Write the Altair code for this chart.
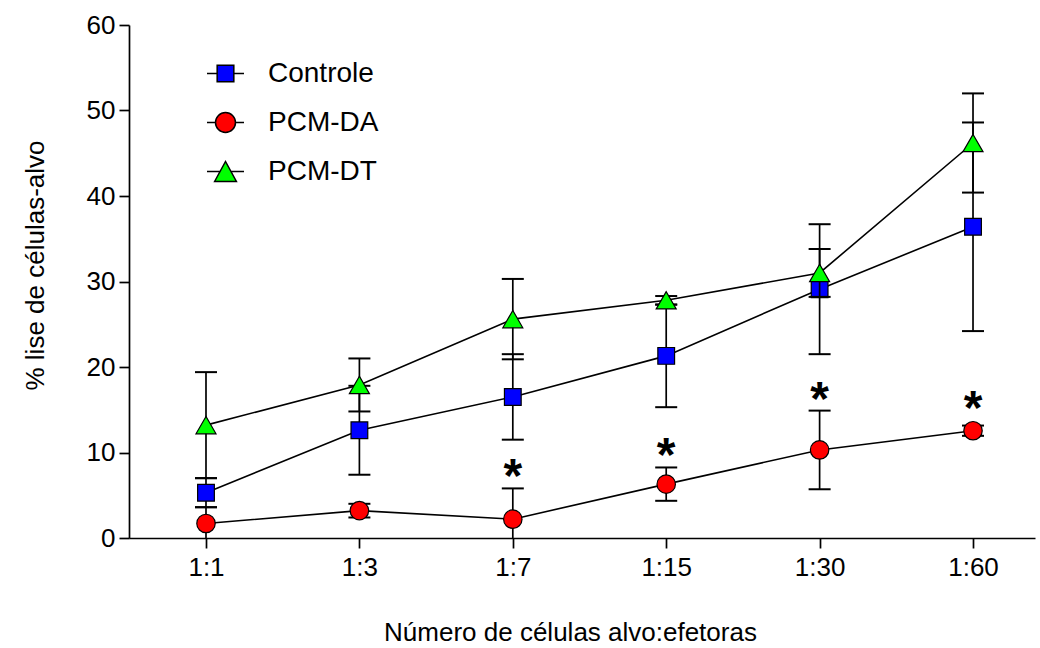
import altair as alt
import pandas as pd

# ---- data ----
categories = ["1:1", "1:3", "1:7", "1:15", "1:30", "1:60"]
series_names = ["Controle", "PCM-DA", "PCM-DT"]

controle_mean = [5.3, 12.6, 16.5, 21.3, 29.1, 36.4]
controle_err = [1.7, 5.2, 5.0, 6.0, 7.6, 12.2]

da_mean = [1.7, 3.2, 2.2, 6.3, 10.3, 12.55]
da_err = [1.9, 0.8, 3.6, 1.95, 4.6, 0.6]

dt_mean = [13.2, 17.9, 25.6, 27.8, 31.0, 46.2]
dt_err = [6.2, 3.1, 4.7, 0.5, 2.8, 5.8]

da_significance = ["", "", "*", "*", "*", "*"]

colors = ["#0000FF", "#FF0000", "#00FF00"]
outline = ["black", "black", "black"]
plot_shapes = ["square", "circle", "triangle-up"]
plot_sizes = [280, 400, 440]
legend_shapes = [
    "M-1,0L-0.45,0M-0.45,-0.45L0.45,-0.45L0.45,0.45L-0.45,0.45ZM0.45,0L1,0",
    "M-1,0L-0.54,0M-0.54,0A0.54,0.54,0,1,1,0.54,0A0.54,0.54,0,1,1,-0.54,0ZM0.54,0L1,0",
    "M-1,0L-0.3,0M0.3,0L1,0M-0.59,0.54L0,-0.54L0.59,0.54Z",
]

FONT = "Liberation Sans"

rows = []
for name, means, errs in zip(series_names, [controle_mean, da_mean, dt_mean],
                             [controle_err, da_err, dt_err]):
    for i, c in enumerate(categories):
        star = da_significance[i] if name == "PCM-DA" else ""
        rows.append(dict(series=name, cat=c, mean=means[i],
                         lo=means[i] - errs[i], hi=means[i] + errs[i],
                         star=star,
                         star_y=max(means[i] + errs[i], means[i] + 1.2)))
df = pd.DataFrame(rows)

x_axis = alt.Axis(title="Número de células alvo:efetoras", titleX=441, titleY=102,
                  titleBaseline="alphabetic", titleAlign="center",
                  titleFontSize=26, titleFont=FONT, titleFontWeight="normal",
                  titleColor="black", labelFontSize=26, labelFont=FONT,
                  labelColor="black", labelPadding=6, tickSize=10, tickWidth=1.7,
                  tickColor="black", domainColor="black", domainWidth=1.7,
                  grid=False, labelAngle=0)
y_axis = alt.Axis(title="% lise de células-alvo", titleX=-86, titleY=240,
                  titleAngle=270, titleBaseline="alphabetic", titleAlign="center",
                  titleFontSize=26, titleFont=FONT, titleFontWeight="normal",
                  titleColor="black", labelFontSize=26, labelFont=FONT,
                  labelColor="black", labelPadding=4, tickSize=10, tickWidth=1.7,
                  tickColor="black", domainColor="black", domainWidth=1.7,
                  grid=False, values=[0, 10, 20, 30, 40, 50, 60])

x_scale = alt.Scale(type="point", domain=categories, padding=0.453, align=0.554)
y_scale = alt.Scale(domain=[0, 60], nice=False, zero=True)


def X():
    return alt.X("cat:N", sort=categories, scale=x_scale, axis=x_axis)


def Y(field):
    return alt.Y(f"{field}:Q", scale=y_scale, axis=y_axis)


base = alt.Chart(df)
layers = []
for k, name in enumerate(series_names):
    sub = base.transform_filter(alt.datum.series == name)
    rule = sub.mark_rule(color="black", strokeWidth=1.7, clip=True).encode(
        x=X(), y=Y("lo"), y2="hi:Q")
    cap_lo = sub.mark_tick(color="black", thickness=2, size=22, orient="horizontal",
                           clip=True, opacity=1).encode(x=X(), y=Y("lo"))
    cap_hi = sub.mark_tick(color="black", thickness=2, size=22, orient="horizontal",
                           clip=True, opacity=1).encode(x=X(), y=Y("hi"))
    line = sub.mark_line(color="black", strokeWidth=1.6).encode(x=X(), y=Y("mean"))
    pts = sub.mark_point(filled=True, opacity=1, strokeWidth=1.2).encode(
        x=X(), y=Y("mean"),
        fill=alt.Fill("series:N", scale=alt.Scale(domain=series_names, range=colors),
                      legend=None),
        shape=alt.Shape("series:N",
                        scale=alt.Scale(domain=series_names, range=plot_shapes),
                        legend=None),
        size=alt.Size("series:N",
                      scale=alt.Scale(domain=series_names, range=plot_sizes),
                      legend=None),
        stroke=alt.value("black"),
    )
    layers += [rule, cap_lo, cap_hi, line, pts]

stars = base.transform_filter(alt.datum.star != "").mark_text(
    fontSize=48, fontWeight="bold", font=FONT, color="black",
    baseline="middle", dy=-10).encode(x=X(), y=Y("star_y"), text="star:N")
layers.append(stars)

leg = alt.Legend(title=None, orient="none", legendX=77, legendY=29,
                 symbolSize=1369, labelFontSize=28, labelFont=FONT,
                 labelColor="black", labelOffset=23, rowPadding=15,
                 symbolStrokeWidth=1.5, padding=0,
                 symbolOpacity=1, labelBaseline="middle")
legend_layer = base.transform_filter("false").mark_point(
    filled=True, opacity=1, strokeWidth=1.5).encode(
    fill=alt.Fill("series:N", scale=alt.Scale(domain=series_names, range=colors),
                  legend=leg),
    shape=alt.Shape("series:N",
                    scale=alt.Scale(domain=series_names, range=legend_shapes),
                    legend=leg),
    stroke=alt.Stroke("series:N",
                      scale=alt.Scale(domain=series_names, range=outline),
                      legend=leg),
)
layers.append(legend_layer)

chart = alt.layer(*layers).resolve_scale(
    shape="independent", fill="independent", size="independent",
    stroke="independent"
).properties(
    width=906, height=513,
    padding={"left": 129, "top": 25, "right": 5, "bottom": 110},
    autosize=alt.AutoSizeParams(type="none"),
    background="white",
).configure_view(stroke=None)

chart.save("out.html", embed_options={"renderer": "svg", "actions": False})
